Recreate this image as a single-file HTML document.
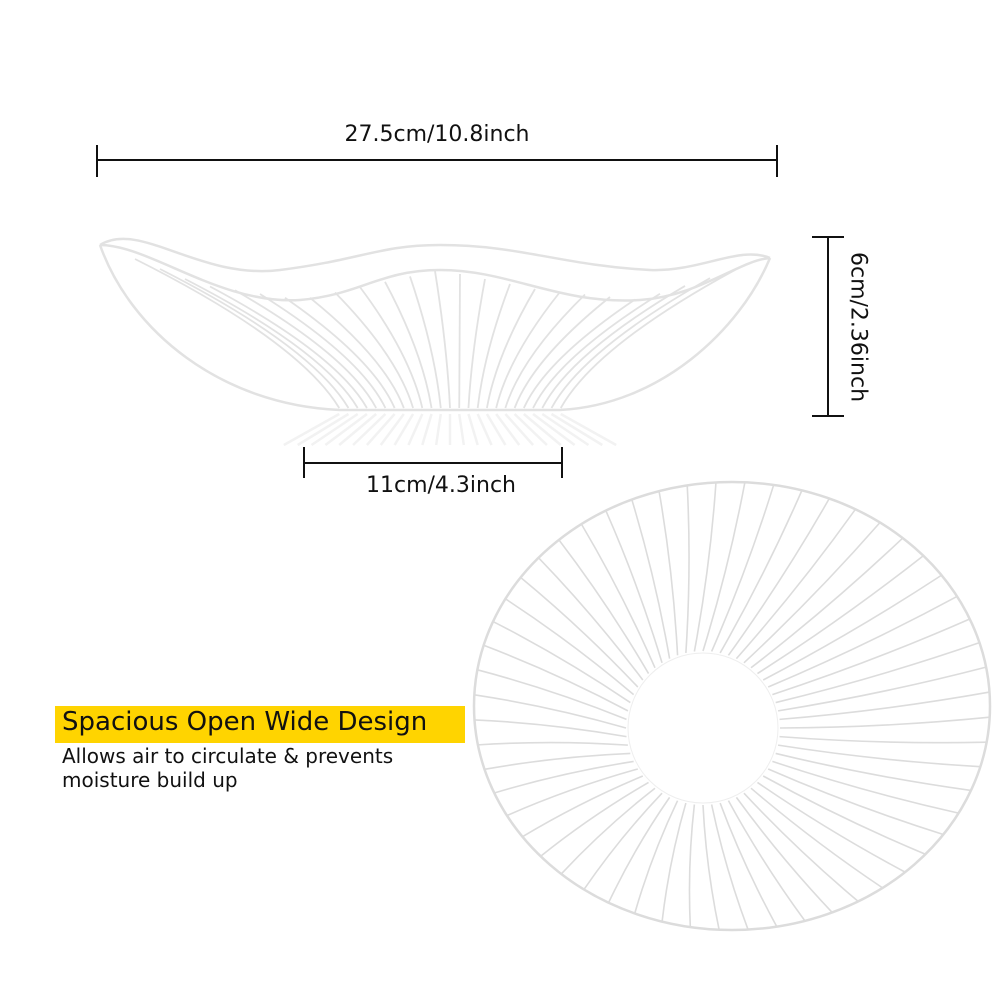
<!DOCTYPE html>
<html><head><meta charset="utf-8"><style>
html,body{margin:0;padding:0;background:#fff;width:1000px;height:1000px;overflow:hidden;position:relative;font-family:"DejaVu Sans","Liberation Sans",sans-serif;color:#111}
.t{position:absolute;white-space:nowrap}
</style></head><body>
<svg id="s" width="1000" height="1000" style="position:absolute;left:0;top:0">
<g stroke="#111" stroke-width="2" fill="none">
<line x1="97" y1="160" x2="777" y2="160"/><line x1="97" y1="145" x2="97" y2="177"/><line x1="777" y1="145" x2="777" y2="177"/>
<line x1="828" y1="237" x2="828" y2="416"/><line x1="812" y1="237" x2="844" y2="237"/><line x1="812" y1="416" x2="844" y2="416"/>
<line x1="304" y1="463" x2="562" y2="463"/><line x1="304" y1="447" x2="304" y2="478"/><line x1="562" y1="447" x2="562" y2="478"/>
</g>
<g id="side" stroke="#e2e2e2" stroke-width="2.5" fill="none">
<path d="M100,245 C140,220 200,280 280,270 C360,260 380,245 440,245 C520,245 560,265 650,270 C700,272 740,245 770,258"/>
<path d="M100,245 C150,245 220,305 300,300 C360,295 380,270 440,270 C510,270 560,305 640,300 C700,296 740,260 770,258"/>
<path d="M100,245 C130,330 220,405 340,410 L560,410 C660,405 740,330 770,258"/>
</g>
<g id="top" stroke="#dcdcdc" stroke-width="1.6" fill="none">
<ellipse cx="732" cy="706" rx="258" ry="224" stroke-width="2.5"/>
</g>
<circle cx="703" cy="728" r="75" fill="#fff" stroke="#eeeeee" stroke-width="1"/>
<rect x="55" y="706" width="410" height="37" fill="#ffd400"/>
</svg>
<div class="t" style="left:0;width:874px;text-align:center;top:122px;font-size:22px">27.5cm/10.8inch</div>
<div class="t" style="left:858px;top:327px;font-size:22px;transform:translate(-50%,-50%) rotate(90deg)">6cm/2.36inch</div>
<div class="t" style="left:0;width:882px;text-align:center;top:473px;font-size:22px">11cm/4.3inch</div>
<div class="t" style="left:62px;top:707px;font-size:26px">Spacious Open Wide Design</div>
<div class="t" style="left:62px;top:744px;font-size:20px">Allows air to circulate &amp; prevents</div>
<div class="t" style="left:62px;top:768px;font-size:20px">moisture build up</div>
<script>
var ns="http://www.w3.org/2000/svg";
var top_=document.getElementById("top"),side=document.getElementById("side");
var N=56;
for(var i=0;i<N;i++){var a=i/N*2*Math.PI;
var x1=703+77*Math.cos(a),y1=728+77*Math.sin(a);
var x2=732+258*Math.cos(a+0.05),y2=706+224*Math.sin(a+0.05);
var p=document.createElementNS(ns,"path");
var mx=(x1+x2)/2+5*Math.cos(a+1.6),my=(y1+y2)/2+5*Math.sin(a+1.6);
p.setAttribute("d","M"+x1+","+y1+" Q"+mx+","+my+" "+x2+","+y2);top_.appendChild(p);}
var pts=[[100,245],[200,285],[300,300],[440,270],[540,290],[640,300],[720,275],[770,258]];
function ry(x){for(var k=0;k<pts.length-1;k++){if(x<=pts[k+1][0]){var f=(x-pts[k][0])/(pts[k+1][0]-pts[k][0]);return pts[k][1]+f*(pts[k+1][1]-pts[k][1]);}}return 258;}
for(var j=1;j<26;j++){var t=j/26;var xb=330+t*240;var xt=110+t*650;var yt=ry(xt);
var l=document.createElementNS(ns,"path");
var cx=xt+(xb-xt)*0.8, cy=yt+(408-yt)*0.55;
l.setAttribute("d","M"+xt+","+yt+" Q"+cx+","+cy+" "+xb+",408");
l.setAttribute("stroke-width","1.8");side.appendChild(l);
var r=document.createElementNS(ns,"line");r.setAttribute("x1",xb);r.setAttribute("y1",414);
r.setAttribute("x2",xb+(xb-450)*0.5);r.setAttribute("y2",445);r.setAttribute("stroke","#f2f2f2");side.appendChild(r);}
</script>
</body></html>
